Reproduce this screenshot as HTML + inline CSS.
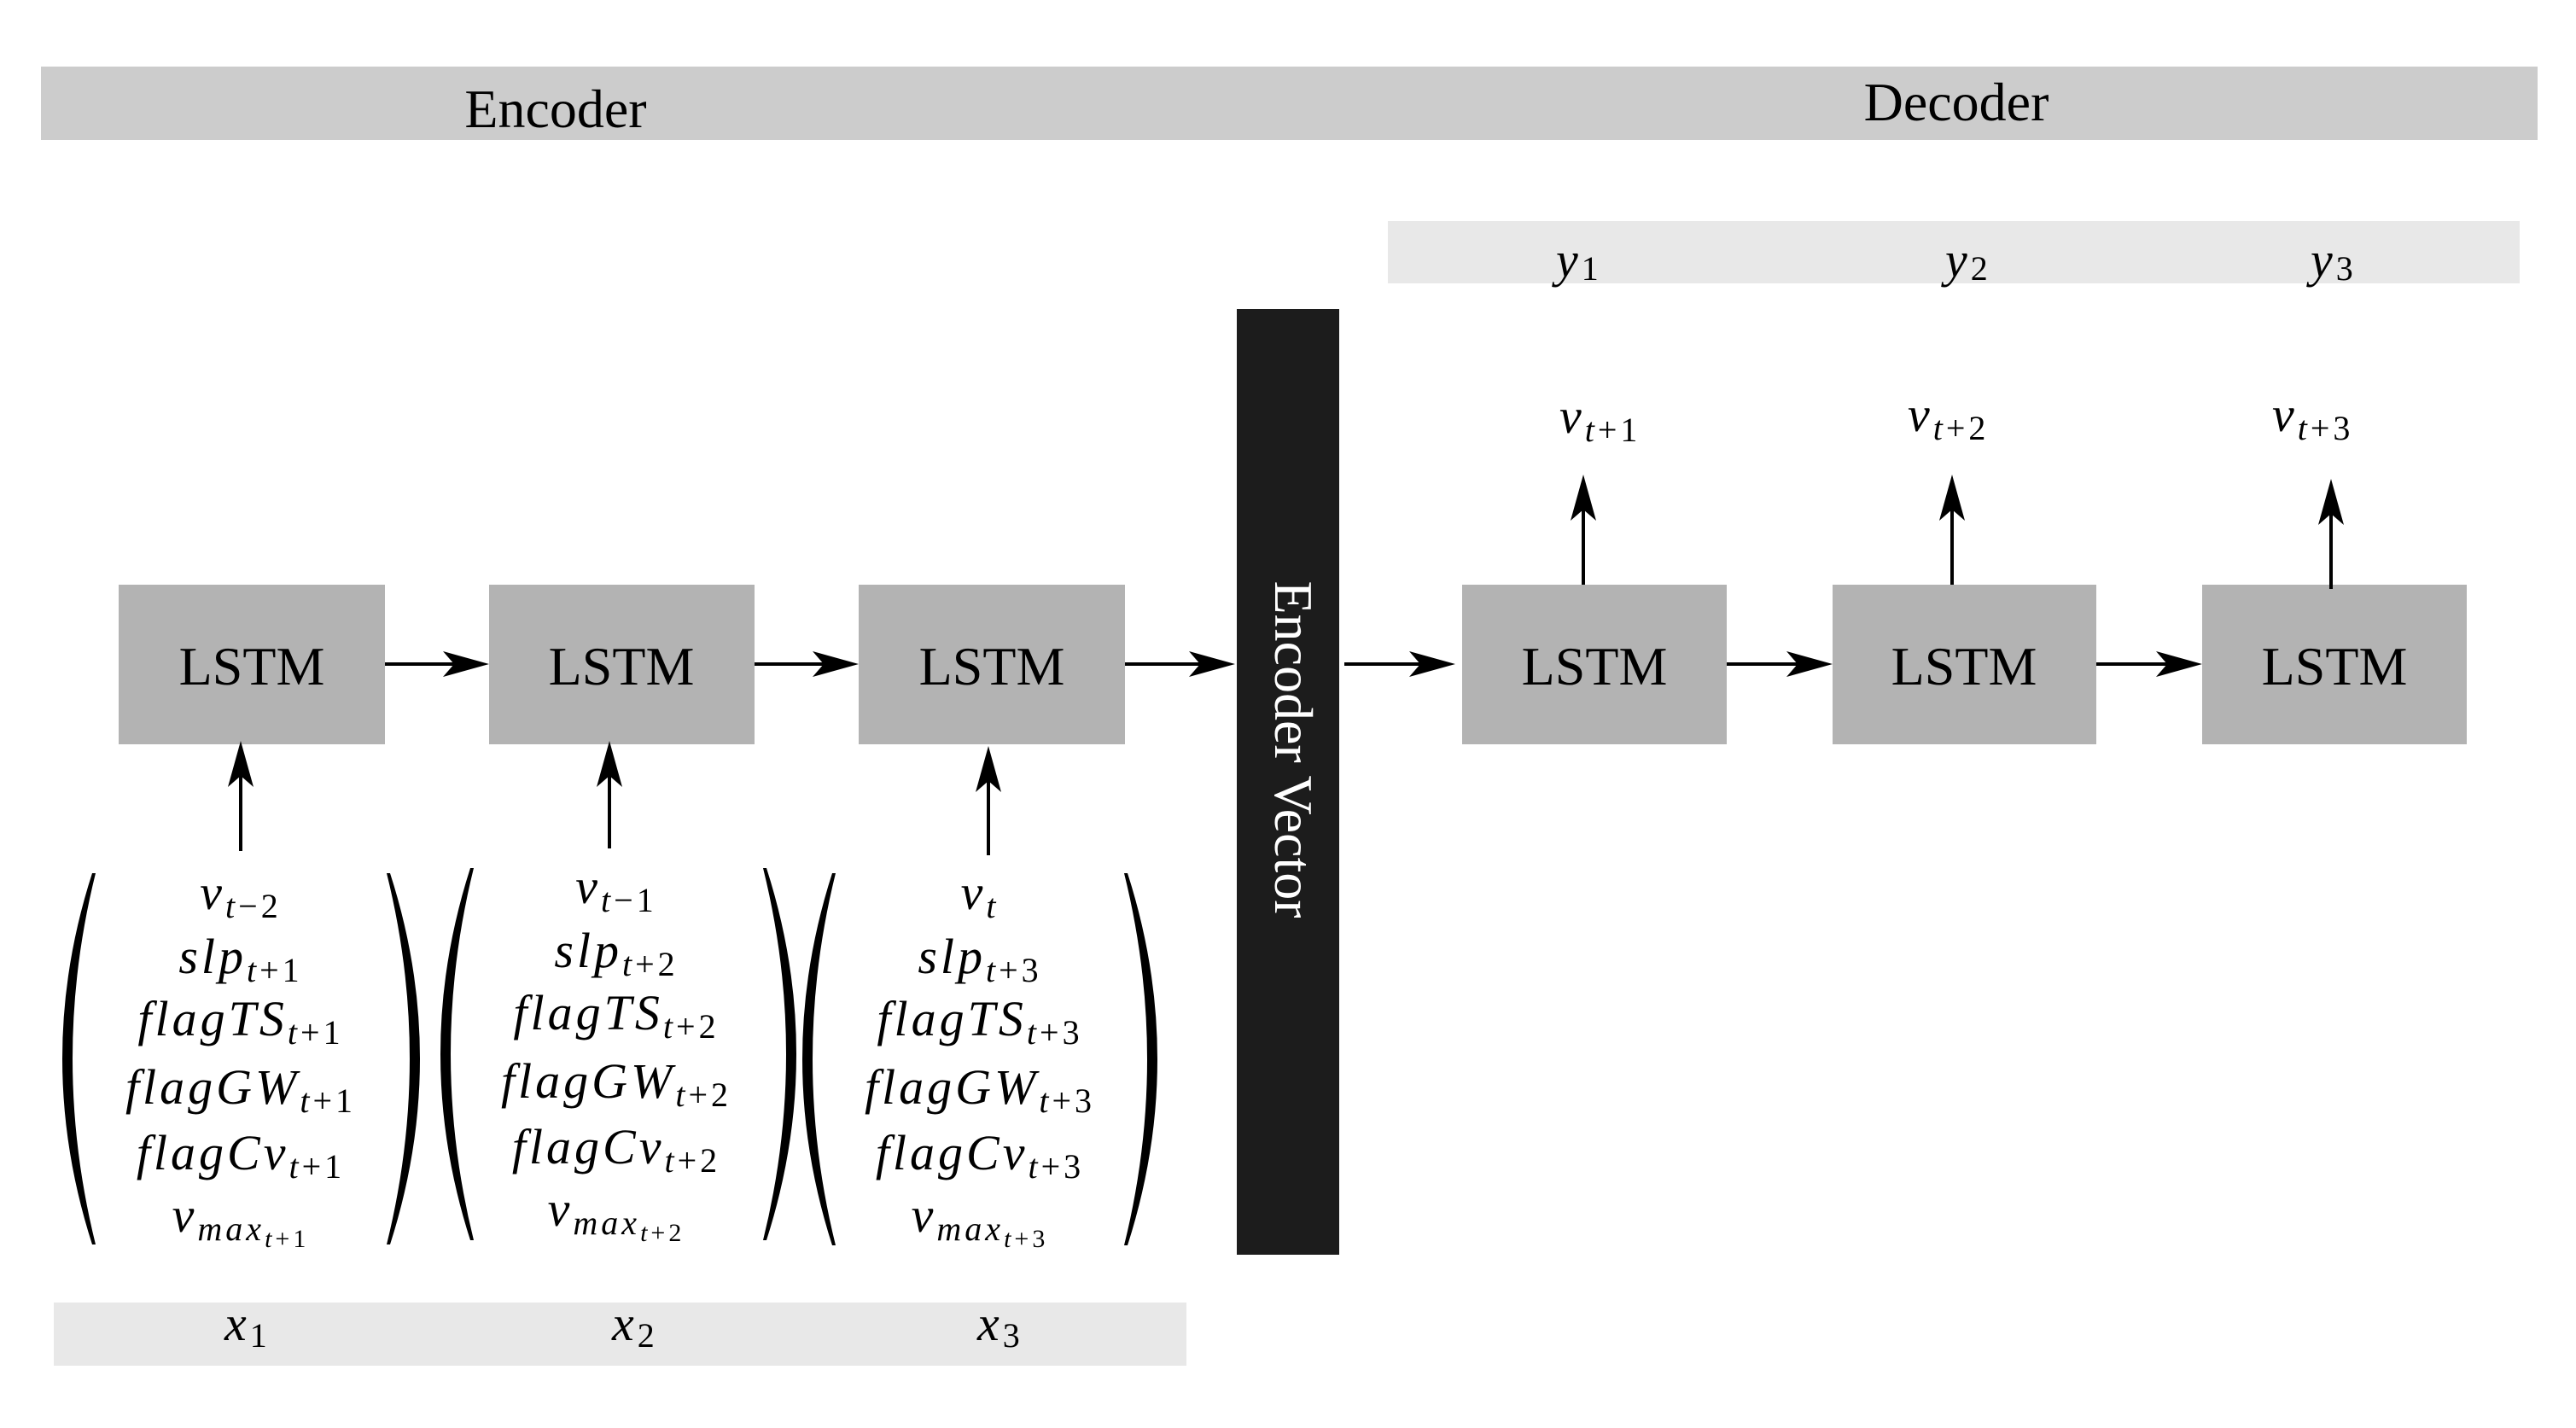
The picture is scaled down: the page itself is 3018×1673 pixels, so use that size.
<!DOCTYPE html>
<html><head><meta charset="utf-8"><style>
html,body{margin:0;padding:0;background:#fff}
svg{display:block}
text{font-family:"Liberation Serif",serif}
.m{font-style:italic;font-size:58px;letter-spacing:4px}
.l{font-size:64px}
</style></head><body>
<svg width="3018" height="1673" viewBox="0 0 3018 1673" xmlns="http://www.w3.org/2000/svg">
<defs>
<path id="ah" d="M0,0 L-54,-15 L-41,0 L-54,15 Z" fill="#000"/>
</defs>
<rect x="48" y="78" width="2925" height="86" fill="#cccccc"/>
<text x="651" y="149" class="l" text-anchor="middle">Encoder</text>
<text x="2292" y="141" class="l" text-anchor="middle">Decoder</text>
<rect x="1626" y="259" width="1326" height="73" fill="#e8e8e8"/>
<text class="m" y="324"><tspan x="1823">y</tspan><tspan font-size="40" font-style="normal" dy="4">1</tspan></text>
<text class="m" y="324"><tspan x="2279">y</tspan><tspan font-size="40" font-style="normal" dy="4">2</tspan></text>
<text class="m" y="324"><tspan x="2707">y</tspan><tspan font-size="40" font-style="normal" dy="4">3</tspan></text>
<rect x="63" y="1526" width="1327" height="74" fill="#e8e8e8"/>
<text class="m" y="1570"><tspan x="263">x</tspan><tspan font-size="40" font-style="normal" dy="8">1</tspan></text>
<text class="m" y="1570"><tspan x="717">x</tspan><tspan font-size="40" font-style="normal" dy="8">2</tspan></text>
<text class="m" y="1570"><tspan x="1145">x</tspan><tspan font-size="40" font-style="normal" dy="8">3</tspan></text>
<rect x="1449" y="362" width="120" height="1108" fill="#1c1c1c"/>
<text class="l" fill="#fff" transform="translate(1494,878) rotate(90)" text-anchor="middle">Encoder Vector</text>
<g fill="#b3b3b3">
<rect x="139" y="685" width="312" height="187"/>
<rect x="573" y="685" width="311" height="187"/>
<rect x="1006" y="685" width="312" height="187"/>
<rect x="1713" y="685" width="310" height="187"/>
<rect x="2147" y="685" width="309" height="187"/>
<rect x="2580" y="685" width="310" height="187"/>
</g>
<g class="l" text-anchor="middle">
<text x="295" y="802">LSTM</text>
<text x="728" y="802">LSTM</text>
<text x="1162" y="802">LSTM</text>
<text x="1868" y="802">LSTM</text>
<text x="2301" y="802">LSTM</text>
<text x="2735" y="802">LSTM</text>
</g>
<g stroke="#000" stroke-width="4">
<line x1="451" y1="778" x2="540" y2="778"/>
<line x1="884" y1="778" x2="974" y2="778"/>
<line x1="1318" y1="778" x2="1410" y2="778"/>
<line x1="1575" y1="778" x2="1670" y2="778"/>
<line x1="2023" y1="778" x2="2110" y2="778"/>
<line x1="2456" y1="778" x2="2545" y2="778"/>
</g>
<use href="#ah" transform="translate(573,778)"/>
<use href="#ah" transform="translate(1006,778)"/>
<use href="#ah" transform="translate(1447,778)"/>
<use href="#ah" transform="translate(1705,778)"/>
<use href="#ah" transform="translate(2147,778)"/>
<use href="#ah" transform="translate(2580,778)"/>
<g stroke="#000" stroke-width="4">
<line x1="282" y1="997" x2="282" y2="905"/>
<line x1="714" y1="994" x2="714" y2="905"/>
<line x1="1158" y1="1002" x2="1158" y2="910"/>
<line x1="1855" y1="685" x2="1855" y2="595"/>
<line x1="2287" y1="685" x2="2287" y2="595"/>
<line x1="2731" y1="690" x2="2731" y2="600"/>
</g>
<use href="#ah" transform="translate(282,868) rotate(-90)"/>
<use href="#ah" transform="translate(714,868) rotate(-90)"/>
<use href="#ah" transform="translate(1158,874) rotate(-90)"/>
<use href="#ah" transform="translate(1855,556) rotate(-90)"/>
<use href="#ah" transform="translate(2287,556) rotate(-90)"/>
<use href="#ah" transform="translate(2731,561) rotate(-90)"/>
<text class="m" y="507"><tspan x="1827">v</tspan><tspan font-size="40" dy="10">t</tspan><tspan font-size="40" font-style="normal">+1</tspan></text>
<text class="m" y="505"><tspan x="2235">v</tspan><tspan font-size="40" dy="10">t</tspan><tspan font-size="40" font-style="normal">+2</tspan></text>
<text class="m" y="505"><tspan x="2662">v</tspan><tspan font-size="40" dy="10">t</tspan><tspan font-size="40" font-style="normal">+3</tspan></text>
<g fill="#000">
<path d="M112,1023 Q58,1240 112,1458 L108,1458 Q38,1240 108,1023 Z"/>
<path d="M453,1023 Q507,1240 453,1458 L457,1458 Q527,1240 457,1023 Z"/>
<path d="M555,1017 Q501,1235 555,1453 L551,1453 Q481,1235 551,1017 Z"/>
<path d="M894,1017 Q948,1235 894,1453 L898,1453 Q968,1235 898,1017 Z"/>
<path d="M979,1023 Q925,1241 979,1459 L975,1459 Q905,1241 975,1023 Z"/>
<path d="M1317,1023 Q1371,1241 1317,1459 L1321,1459 Q1391,1241 1321,1023 Z"/>
</g>
<g class="m" text-anchor="middle">
<text x="282" y="1065">v<tspan font-size="40" dy="10">t</tspan><tspan font-size="40" font-style="normal">−2</tspan></text>
<text x="282" y="1140">slp<tspan font-size="40" dy="10">t</tspan><tspan font-size="40" font-style="normal">+1</tspan></text>
<text x="282" y="1213">flagTS<tspan font-size="40" dy="10">t</tspan><tspan font-size="40" font-style="normal">+1</tspan></text>
<text x="282" y="1293">flagGW<tspan font-size="40" dy="10">t</tspan><tspan font-size="40" font-style="normal">+1</tspan></text>
<text x="282" y="1370">flagCv<tspan font-size="40" dy="10">t</tspan><tspan font-size="40" font-style="normal">+1</tspan></text>
<text x="282" y="1443">v<tspan font-size="40" dy="10">max</tspan><tspan font-size="30" dy="8">t</tspan><tspan font-size="30" font-style="normal">+1</tspan></text>

<text x="722" y="1058">v<tspan font-size="40" dy="10">t</tspan><tspan font-size="40" font-style="normal">−1</tspan></text>
<text x="722" y="1133">slp<tspan font-size="40" dy="10">t</tspan><tspan font-size="40" font-style="normal">+2</tspan></text>
<text x="722" y="1206">flagTS<tspan font-size="40" dy="10">t</tspan><tspan font-size="40" font-style="normal">+2</tspan></text>
<text x="722" y="1286">flagGW<tspan font-size="40" dy="10">t</tspan><tspan font-size="40" font-style="normal">+2</tspan></text>
<text x="722" y="1363">flagCv<tspan font-size="40" dy="10">t</tspan><tspan font-size="40" font-style="normal">+2</tspan></text>
<text x="722" y="1436">v<tspan font-size="40" dy="10">max</tspan><tspan font-size="30" dy="8">t</tspan><tspan font-size="30" font-style="normal">+2</tspan></text>

<text x="1148" y="1065">v<tspan font-size="40" dy="10">t</tspan></text>
<text x="1148" y="1140">slp<tspan font-size="40" dy="10">t</tspan><tspan font-size="40" font-style="normal">+3</tspan></text>
<text x="1148" y="1213">flagTS<tspan font-size="40" dy="10">t</tspan><tspan font-size="40" font-style="normal">+3</tspan></text>
<text x="1148" y="1293">flagGW<tspan font-size="40" dy="10">t</tspan><tspan font-size="40" font-style="normal">+3</tspan></text>
<text x="1148" y="1370">flagCv<tspan font-size="40" dy="10">t</tspan><tspan font-size="40" font-style="normal">+3</tspan></text>
<text x="1148" y="1443">v<tspan font-size="40" dy="10">max</tspan><tspan font-size="30" dy="8">t</tspan><tspan font-size="30" font-style="normal">+3</tspan></text>
</g>
</svg>
</body></html>
